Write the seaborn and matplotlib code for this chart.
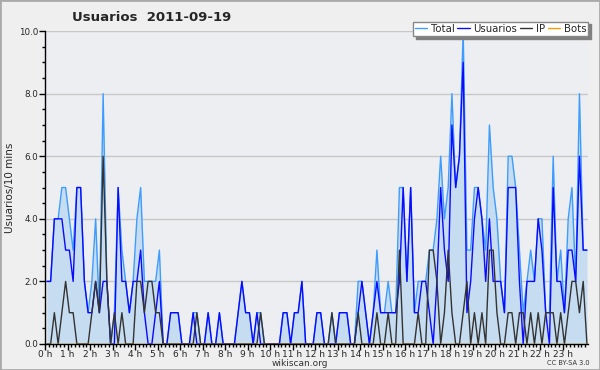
import numpy as np
import pandas as pd
import matplotlib
matplotlib.use("Agg")
import matplotlib.pyplot as plt
from matplotlib.patches import Rectangle
from matplotlib.ticker import MultipleLocator, FixedLocator, FormatStrFormatter
import seaborn as sns

# 10-minute samples for 2011-09-19
users = [2, 2, 4, 4, 4, 3, 3, 2, 5, 5, 2, 1, 1, 2, 1, 2, 2, 0, 0, 5,
         2, 2, 1, 2, 2, 3, 1, 0, 0, 1, 2, 0, 0, 1, 1, 1, 0, 0, 0, 1,
         0, 0, 0, 1, 0, 0, 1, 0, 0, 0, 0, 1, 2, 1, 1, 0, 1, 0, 0, 0,
         0, 0, 0, 1, 1, 0, 1, 1, 2, 0, 0, 0, 1, 1, 0, 0, 0, 0, 1, 1,
         1, 0, 0, 1, 2, 1, 0, 1, 2, 1, 1, 1, 1, 1, 2, 5, 2, 5, 1, 1,
         2, 2, 1, 0, 2, 5, 3, 2, 7, 5, 6, 9, 1, 2, 4, 5, 4, 2, 4, 2,
         2, 2, 1, 5, 5, 5, 2, 0, 2, 2, 2, 4, 3, 1, 0, 5, 2, 2, 1, 3,
         3, 2, 6, 3, 3]
ip = [0, 0, 1, 0, 1, 2, 1, 1, 0, 0, 0, 0, 1, 2, 1, 6, 2, 0, 1, 0,
      1, 0, 0, 0, 2, 2, 1, 2, 2, 1, 1, 0, 0, 0, 0, 0, 0, 0, 0, 0,
      1, 0, 0, 0, 0, 0, 0, 0, 0, 0, 0, 0, 0, 0, 0, 0, 0, 1, 0, 0,
      0, 0, 0, 0, 0, 0, 0, 0, 0, 0, 0, 0, 0, 0, 0, 0, 1, 0, 0, 0,
      0, 0, 0, 1, 0, 0, 0, 0, 1, 0, 0, 1, 0, 0, 3, 0, 0, 0, 0, 1,
      0, 0, 3, 3, 2, 0, 1, 3, 1, 0, 0, 1, 2, 0, 1, 0, 1, 0, 3, 3,
      1, 0, 0, 1, 1, 0, 1, 1, 0, 1, 0, 1, 0, 1, 1, 1, 0, 1, 0, 1,
      2, 2, 1, 2, 0]
total = [2, 2, 4, 4, 5, 5, 4, 3, 5, 5, 2, 1, 2, 4, 1, 8, 2, 0, 1, 5,
         3, 2, 1, 2, 4, 5, 2, 2, 2, 2, 3, 0, 0, 1, 1, 1, 0, 0, 0, 1,
         1, 0, 0, 1, 0, 0, 1, 0, 0, 0, 0, 1, 2, 1, 1, 0, 1, 1, 0, 0,
         0, 0, 0, 1, 1, 0, 1, 1, 2, 0, 0, 0, 1, 1, 0, 0, 1, 0, 1, 1,
         1, 0, 0, 2, 2, 1, 0, 1, 3, 1, 1, 2, 1, 1, 5, 5, 2, 5, 1, 2,
         2, 2, 3, 3, 4, 6, 4, 5, 8, 5, 6, 10, 3, 3, 5, 5, 4, 3, 7, 5,
         4, 2, 1, 6, 6, 5, 3, 1, 2, 3, 2, 4, 4, 1, 1, 6, 2, 3, 1, 4,
         5, 2, 8, 3, 3]
bots = [0] * len(total)
hour_labels = [f"{h} h" for h in range(24)]

df = pd.DataFrame({"hora": (np.arange(len(total)) + 0.5) / 6,
                   "Total": total, "Usuarios": users, "IP": ip, "Bots": bots})

sns.set_style("white", {"axes.facecolor": "#edeef1"})
plt.rcParams["font.family"] = ["DejaVu Sans"]

fig = plt.figure(figsize=(6, 3.7), dpi=100, facecolor="#efefef")
ax = fig.add_axes([0.075, 0.0703, 0.905, 0.8457])

colors = {"Total": "#3d9cff", "Usuarios": "#0a0aff", "IP": "#333333", "Bots": "#ff9900"}

ax.fill_between(df["hora"], df["Total"], color="#c6dcf0", lw=0, zorder=1)
for col in ["Total", "Usuarios", "IP", "Bots"]:
    sns.lineplot(data=df, x="hora", y=col, ax=ax, color=colors[col], lw=1.0,
                 label=col, legend=False, zorder=3)

ax.set_xlim(0, 24.13)
ax.set_ylim(0, 10)
ax.yaxis.set_major_locator(MultipleLocator(2))
ax.yaxis.set_minor_locator(MultipleLocator(0.5))
ax.yaxis.set_major_formatter(FormatStrFormatter("%.1f"))
ax.xaxis.set_major_locator(FixedLocator(range(24)))
ax.set_xticklabels(hour_labels)
ax.xaxis.set_minor_locator(MultipleLocator(1 / 6))
ax.grid(axis="y", color="#c8c8c8", lw=1)
ax.tick_params(axis="both", which="major", direction="out", length=4, width=1,
               color="black", labelsize=6.3, pad=1, bottom=True, left=True)
ax.tick_params(axis="both", which="minor", direction="out", length=2.5, width=1,
               color="black", bottom=True, left=True)
ax.tick_params(axis="x", labelsize=6.5, pad=0)
for s in ["top", "right"]:
    ax.spines[s].set_visible(False)
for s in ["left", "bottom"]:
    ax.spines[s].set_color("black")
    ax.spines[s].set_linewidth(1)
ax.set_xlabel("")
ax.set_ylabel("Usuarios/10 mins", fontsize=7.5, labelpad=3)

fig.text(0.252, 0.953, "Usuarios  2011-09-19", ha="center", va="center",
         fontsize=9.5, fontweight="bold")
fig.text(0.5, 0.018, "wikiscan.org", ha="center", va="center", fontsize=6.5, color="#333333")
fig.text(0.983, 0.018, "CC BY-SA 3.0", ha="right", va="center", fontsize=4.8, color="#333333")

handles, labels = ax.get_legend_handles_labels()
fig.legend(handles, labels, loc="upper right", bbox_to_anchor=(0.989, 0.955),
           ncol=4, frameon=True, fancybox=False, edgecolor="#888888",
           facecolor="white", framealpha=1, fontsize=7.3, handlelength=1.2,
           handletextpad=0.35, columnspacing=0.3, borderpad=0.2,
           shadow={"color": "#808080", "alpha": 1})

fig.patches.append(Rectangle((0, 0), 1, 1, transform=fig.transFigure, fill=False,
                             edgecolor="#aaaaaa", lw=2))

fig.savefig("out.png", dpi=100, facecolor=fig.get_facecolor())
